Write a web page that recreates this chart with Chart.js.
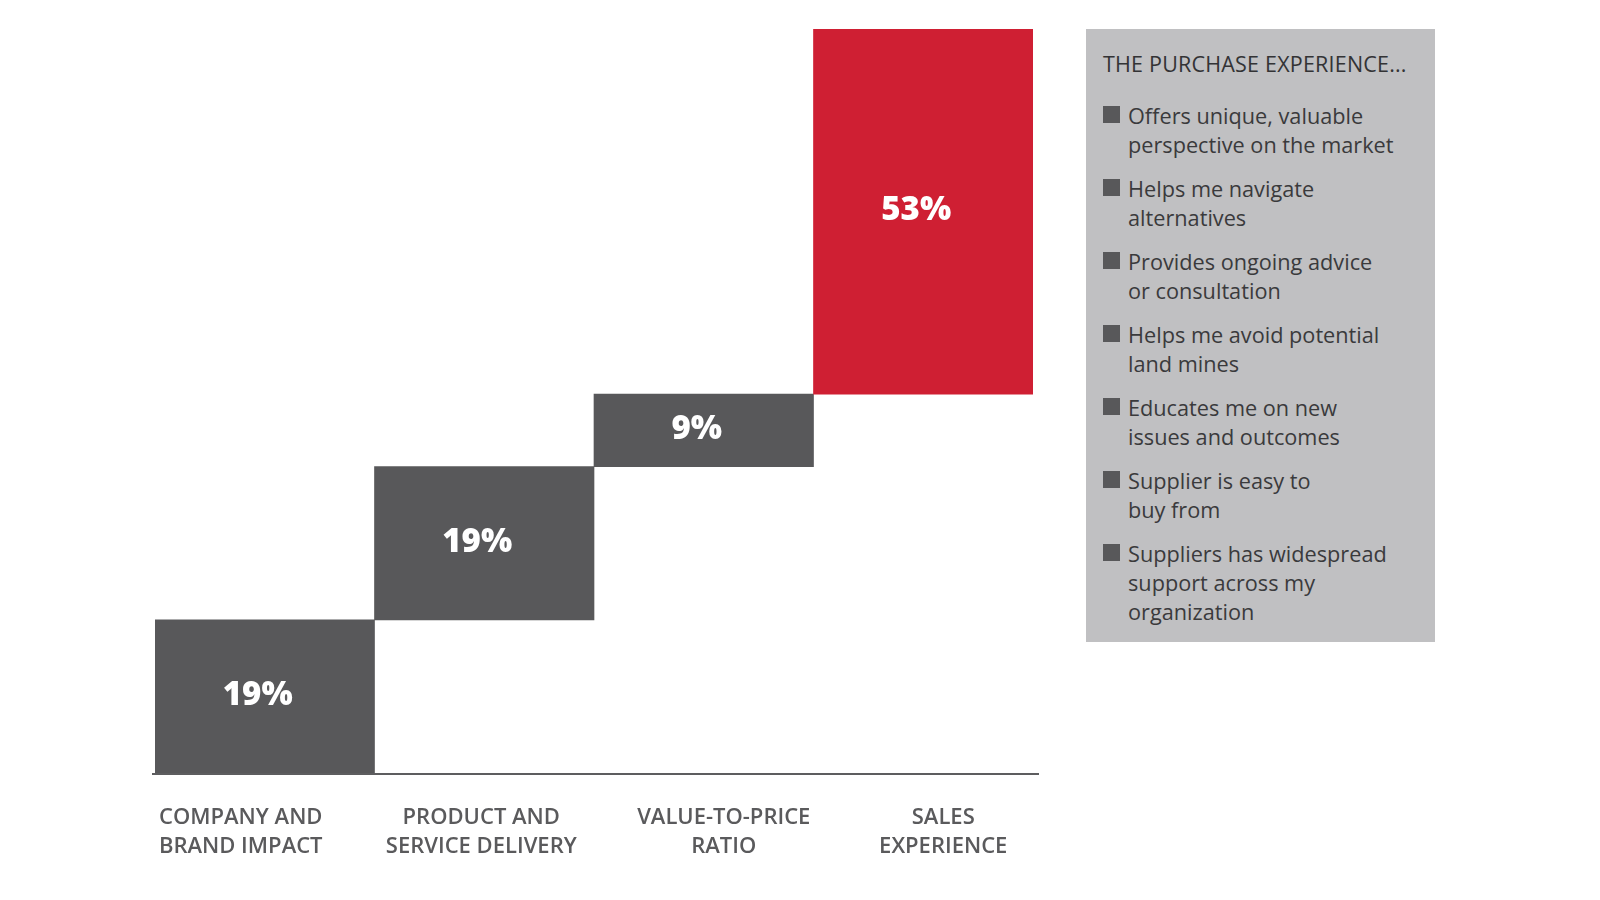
<!DOCTYPE html>
<html>
<head>
<meta charset="utf-8">
<script src="https://cdn.jsdelivr.net/npm/chart.js@4/dist/chart.umd.min.js"></script>
<style>
  html, body { margin: 0; padding: 0; background: #ffffff; }
  #wrap { position: relative; width: 1600px; height: 900px; font-family: 'Open Sans', sans-serif; }
  #grafico { position: absolute; left: 0; top: 0; }
  #painel {
    position: absolute; left: 1086px; top: 29px; width: 349px; height: 613px;
    background: #c0c0c2; box-sizing: border-box; padding: 20px 10px 0 17px;
    color: #3a3a3c;
  }
  #painel h2 {
    margin: 0 0 23px 0; font-size: 21.5px; font-weight: 500; line-height: 29px;
    letter-spacing: 0.2px; white-space: nowrap; color: #333335;
  }
  #painel ul { list-style: none; margin: 0; padding: 0; }
  #painel li {
    position: relative; padding-left: 25px; margin-bottom: 15px;
    font-size: 21.7px; line-height: 29px; white-space: nowrap;
  }
  #painel li::before {
    content: ''; position: absolute; left: 0; top: 5px; width: 17px; height: 17px;
    background: #58585a;
  }
</style>
</head>
<body>
<div id="wrap">
  <canvas id="grafico" width="1600" height="900"></canvas>
  <div id="painel">
    <h2 id="tituloPainel"></h2>
    <ul id="listaPainel"></ul>
  </div>
</div>
<script>
// Categorias (cada uma quebrada em duas linhas como no original)
const categorias = [
  ['COMPANY AND', 'BRAND IMPACT'],
  ['PRODUCT AND', 'SERVICE DELIVERY'],
  ['VALUE-TO-PRICE', 'RATIO'],
  ['SALES', 'EXPERIENCE']
];

// Participação de cada fator (%)
const participacao = [19, 19, 9, 53];

const coresBarras = ['#58585a', '#58585a', '#58585a', '#cf1f33'];

const tituloLegenda = 'THE PURCHASE EXPERIENCE...';
const itensLegenda = [
  ['Offers unique, valuable', 'perspective on the market'],
  ['Helps me navigate', 'alternatives'],
  ['Provides ongoing advice', 'or consultation'],
  ['Helps me avoid potential', 'land mines'],
  ['Educates me on new', 'issues and outcomes'],
  ['Supplier is easy to', 'buy from'],
  ['Suppliers has widespread', 'support across my', 'organization']
];

// deslocamento manual dos rótulos das categorias (como no layout original)
const ajusteRotulos = [-24, -3, 20, 20];

// monta o painel lateral
document.getElementById('tituloPainel').textContent = tituloLegenda;
const lista = document.getElementById('listaPainel');
itensLegenda.forEach(linhas => {
  const li = document.createElement('li');
  linhas.forEach((txt, i) => {
    if (i > 0) li.appendChild(document.createElement('br'));
    li.appendChild(document.createTextNode(txt));
  });
  lista.appendChild(li);
});

// faixas da cascata: cada barra começa onde a anterior terminou
const faixas = [];
let acumulado = 0;
participacao.forEach(v => {
  faixas.push([acumulado, acumulado + v]);
  acumulado += v;
});

// linha de base sob as barras
const linhaBase = {
  id: 'linhaBase',
  afterDatasetsDraw(chart) {
    const { ctx, chartArea } = chart;
    ctx.save();
    ctx.strokeStyle = '#5d5d5f';
    ctx.lineWidth = 2;
    ctx.beginPath();
    ctx.moveTo(chartArea.left - 3, chartArea.bottom + 1);
    ctx.lineTo(chartArea.right + 6, chartArea.bottom + 1);
    ctx.stroke();
    ctx.restore();
  }
};

// rótulos de valor dentro das barras + rótulos das categorias
const rotulos = {
  id: 'rotulos',
  afterDraw(chart) {
    const { ctx, chartArea } = chart;
    const meta = chart.getDatasetMeta(0);
    ctx.save();
    ctx.textAlign = 'center';
    ctx.textBaseline = 'middle';

    ctx.fillStyle = '#ffffff';
    ctx.font = "800 33px 'Open Sans'";
    meta.data.forEach((barra, i) => {
      const topo = Math.max(Math.min(barra.y, barra.base), chartArea.top);
      const fundo = Math.min(Math.max(barra.y, barra.base), chartArea.bottom);
      ctx.fillText(participacao[i] + '%', barra.x - 7, (topo + fundo) / 2 - 1);
    });

    ctx.fillStyle = '#5a5a5c';
    ctx.font = "600 22px 'Open Sans'";
    const escalaX = chart.scales.x;
    categorias.forEach((linhas, i) => {
      const x = escalaX.getPixelForValue(i) + ajusteRotulos[i];
      linhas.forEach((txt, j) => {
        ctx.fillText(txt, x, chartArea.bottom + 45 + j * 29);
      });
    });
    ctx.restore();
  }
};

function inicializarGrafico() {
  const ctx = document.getElementById('grafico').getContext('2d');

  new Chart(ctx, {
    type: 'bar',
    data: {
      labels: categorias.map(c => c.join(' ')),
      datasets: [{
        label: 'Participação',
        data: faixas,
        backgroundColor: coresBarras,
        borderWidth: 0,
        barPercentage: 1,
        categoryPercentage: 1
      }]
    },
    options: {
      responsive: false,
      animation: false,
      layout: {
        padding: { left: 155, right: 567, top: 29, bottom: 127 }
      },
      scales: {
        x: { display: false },
        // a barra vermelha é cortada no topo, como no original
        y: { display: false, min: 0, max: 92.3 }
      },
      plugins: {
        legend: { display: false },
        tooltip: { enabled: false }
      }
    },
    plugins: [linhaBase, rotulos]
  });
}

document.addEventListener('DOMContentLoaded', inicializarGrafico);
</script>
</body>
</html>
